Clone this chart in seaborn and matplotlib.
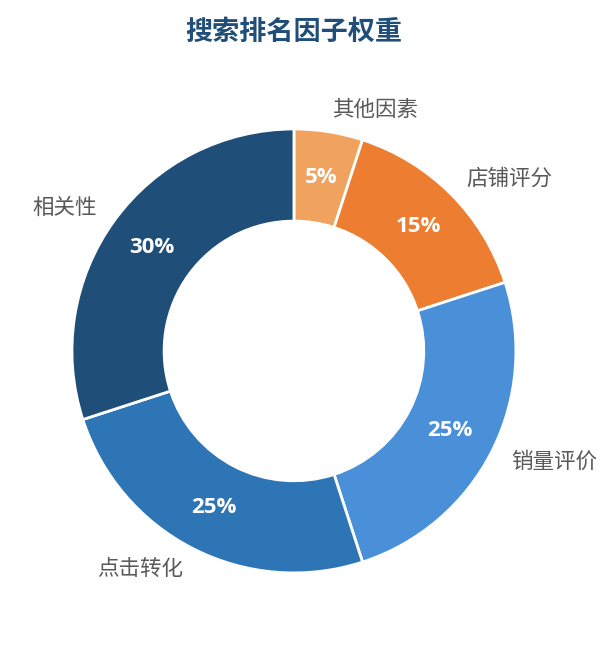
import matplotlib
matplotlib.use("Agg")
import matplotlib.pyplot as plt
import seaborn as sns

# 数据
fatores = ["其他因素", "店铺评分", "销量评价", "点击转化", "相关性"]
pesos = [5, 15, 25, 25, 30]
cores = ["#F0A35E", "#ED7D31", "#4A90D9", "#2E75B6", "#1F4E79"]

sns.set_theme(style="white")
plt.rcParams["font.family"] = ["Noto Sans CJK SC", "DejaVu Sans"]

fig = plt.figure(figsize=(6.12, 6.45), dpi=100)
ax = fig.add_axes([0.0088, 0.0084, 0.943, 0.895])

wedges, textos, autotextos = ax.pie(
    pesos,
    labels=fatores,
    colors=sns.color_palette(cores),
    startangle=90,
    counterclock=False,
    labeldistance=1.1,
    pctdistance=0.79,
    autopct="%d%%",
    wedgeprops=dict(width=0.415, edgecolor="white", linewidth=2),
    textprops=dict(fontsize=15.5, color="#595959"),
)
for t in autotextos:
    t.set_color("white")
    t.set_fontweight("bold")
    t.set_fontsize(16)
    t.set_family(["Open Sans", "DejaVu Sans"])

ax.set_xlim(-1.3, 1.3)
ax.set_ylim(-1.3, 1.3)
ax.set_aspect("equal")
ax.axis("off")

fig.text(0.48, 0.95, "搜索排名因子权重", ha="center", va="center",
         fontsize=19.5, fontweight="bold", color="#1F4E79")

plt.savefig("out.png", dpi=100)
